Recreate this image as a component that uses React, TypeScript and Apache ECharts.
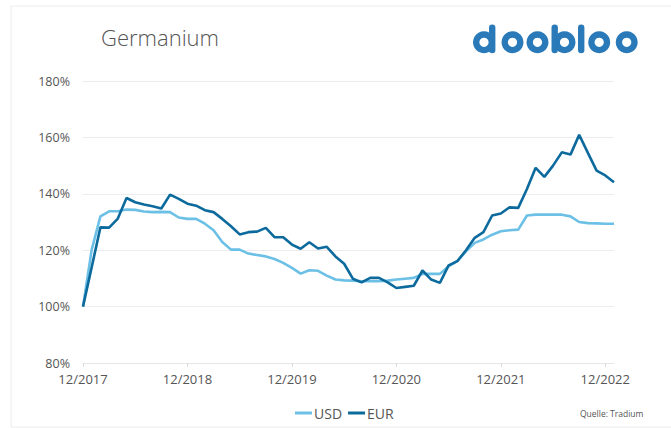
import React, { useEffect, useRef } from "react";
import * as echarts from "echarts";

const startYear = 2017;
const startMonth = 12;
const monthCount = 62;
const categories: string[] = [];
for (let i = 0; i < monthCount; i++) {
  const m0 = startMonth - 1 + i;
  const y = startYear + Math.floor(m0 / 12);
  const m = (m0 % 12) + 1;
  categories.push((m < 10 ? "0" + m : "" + m) + "/" + y);
}

const usd = [
  100, 120.2, 132, 133.8, 133.8, 134.4, 134.3, 133.7, 133.5, 133.6, 133.5, 131.6,
  131.1, 131.1, 129.4, 127.1, 122.9, 120.2, 120.2, 118.8, 118.3, 117.8, 116.9, 115.5,
  113.7, 111.7, 112.9, 112.7, 111, 109.6, 109.3, 109.2, 109, 109, 109, 109.2,
  109.6, 109.9, 110.2, 111.6, 111.6, 111.6, 114.3, 116.1, 119.6, 122.6, 123.8, 125.5,
  126.7, 127.1, 127.3, 132.3, 132.6, 132.6, 132.6, 132.6, 132, 130, 129.6, 129.5,
  129.4, 129.4,
];

const eur = [
  100, 114, 128.1, 128, 131.2, 138.5, 137, 136.2, 135.6, 134.8, 139.7, 138.2,
  136.5, 135.8, 134.2, 133.5, 131.1, 128.5, 125.6, 126.4, 126.6, 127.9, 124.6, 124.6,
  122, 120.5, 122.8, 120.6, 121.2, 117.8, 115.2, 109.9, 108.6, 110.2, 110.2, 108.6,
  106.6, 107, 107.4, 112.8, 109.6, 108.4, 114.6, 116.1, 120, 124.4, 126.4, 132.3,
  133, 135.2, 135, 141.7, 149.2, 146, 150, 154.7, 153.9, 160.9, 154.5, 148.2,
  146.5, 144.1,
];

const yTicks = { min: 80, max: 180, interval: 20 };

const LOGO = "#2a7ab9";
const logoCy = 42.3;
const logoR = 11;
const logoR0 = 4.6;
const ringXs = [484, 512.5, 537.5, 564.5, 599.2, 626.7];
const stemXs = [489, 551.5, 578];

export default function App() {
  const ref = useRef<HTMLDivElement>(null);
  useEffect(() => {
    if (!ref.current) return;
    const chart = echarts.init(ref.current, undefined, { renderer: "svg" });
    const font = "'Open Sans', sans-serif";
    const logoEls: any[] = [];
    ringXs.forEach((cx) =>
      logoEls.push({
        type: "ring",
        shape: { cx, cy: logoCy, r: logoR, r0: logoR0 },
        style: { fill: LOGO },
      })
    );
    stemXs.forEach((x) =>
      logoEls.push({
        type: "rect",
        shape: { x, y: 24.5, width: 6.4, height: 28.8, r: 3.2 },
        style: { fill: LOGO },
      })
    );
    chart.setOption({
      animation: false,
      backgroundColor: "#ffffff",
      grid: { left: 83, right: 57, top: 81, bottom: 65 },
      title: {
        text: "Germanium",
        left: 96,
        top: 21,
        textStyle: { fontFamily: font, fontWeight: 300, fontSize: 22, color: "#555555" },
      },
      legend: {
        bottom: 3,
        left: 290,
        icon: "rect",
        itemWidth: 17,
        itemHeight: 3,
        itemGap: 6,
        textStyle: { fontFamily: font, fontSize: 14, color: "#555555", padding: [0, 0, 0, -3] },
        data: ["USD", "EUR"],
      },
      graphic: [
        {
          type: "polyline",
          shape: { points: [[671, 6], [11, 6], [11, 427], [671, 427]] },
          style: { stroke: "#ececec", lineWidth: 1, fill: "none" },
          silent: true,
        },
        ...logoEls,
        {
          type: "text",
          left: 580,
          top: 409,
          style: { text: "Quelle: Tradium", fontFamily: font, fontSize: 8.5, fill: "#555555" },
        },
      ],
      xAxis: {
        type: "category",
        data: categories,
        boundaryGap: false,
        axisLine: { lineStyle: { color: "#e6e6e6" } },
        axisTick: { interval: 11, length: 4, lineStyle: { color: "#dddddd" } },
        axisLabel: {
          interval: 11,
          margin: 9,
          fontFamily: font,
          fontSize: 13,
          color: "#555555",
        },
        splitLine: { show: false },
      },
      yAxis: {
        type: "value",
        min: yTicks.min,
        max: yTicks.max,
        interval: yTicks.interval,
        axisLine: { show: false },
        axisTick: { show: false },
        axisLabel: {
          formatter: "{value}%",
          margin: 13,
          fontFamily: font,
          fontSize: 12.5,
          color: "#555555",
        },
        splitLine: { lineStyle: { color: "#ececec" } },
      },
      series: [
        {
          name: "USD",
          type: "line",
          data: usd,
          showSymbol: false,
          symbol: "none",
          lineStyle: { color: "#6cc0e6", width: 2.6 },
          itemStyle: { color: "#6cc0e6" },
          z: 2,
        },
        {
          name: "EUR",
          type: "line",
          data: eur,
          showSymbol: false,
          symbol: "none",
          lineStyle: { color: "#0d6a9d", width: 2.6 },
          itemStyle: { color: "#0d6a9d" },
          z: 3,
        },
      ],
    });
    return () => chart.dispose();
  }, []);
  return (
    <div
      ref={ref}
      style={{ position: "fixed", left: 0, top: 0, width: 671, height: 428 }}
    />
  );
}
